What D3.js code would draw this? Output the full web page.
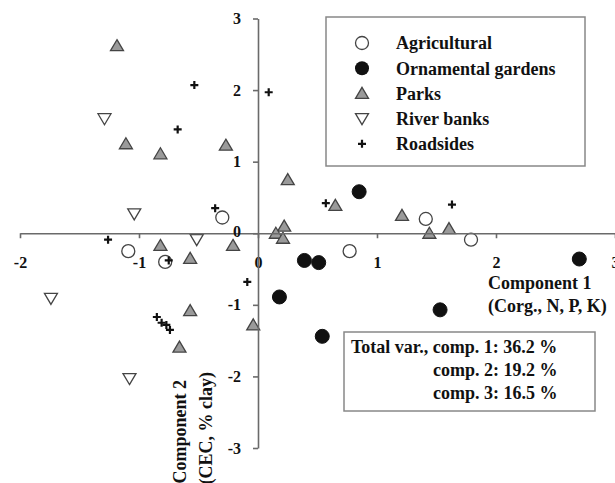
<!DOCTYPE html>
<html>
<head>
<meta charset="utf-8">
<script src="https://cdn.jsdelivr.net/npm/d3@7"></script>
<style>
html,body{margin:0;padding:0;background:#fff;}
svg{display:block;}
text{font-family:"Liberation Serif","Times New Roman",serif;font-weight:bold;fill:#111;}
</style>
</head>
<body>
<svg id="chart" width="615" height="483"></svg>
<script>
// ---- data ----
const agricultural = [[-0.30,0.22],[-1.09,-0.25],[-0.78,-0.40],[1.41,0.20],[1.79,-0.09],[0.77,-0.25]];
const ornamental   = [[0.85,0.58],[0.39,-0.38],[0.51,-0.41],[2.70,-0.36],[1.53,-1.07],[0.54,-1.44],[0.18,-0.89]];
const parks = [[-1.185,2.62],[-1.11,1.25],[-0.82,1.11],[-0.27,1.23],[0.25,0.75],[0.22,0.10],[0.15,0.00],[0.21,-0.07],
               [-0.82,-0.17],[-0.21,-0.17],[-0.57,-0.35],[-0.57,-1.08],[-0.66,-1.59],[-0.04,-1.28],
               [0.65,0.39],[1.21,0.25],[1.44,0.00],[1.605,0.065]];
const riverBanks = [[-1.29,1.60],[-1.04,0.27],[-0.515,-0.09],[-1.74,-0.91],[-1.08,-2.03]];
const roadsides = [[-0.535,2.07],[0.09,1.97],[-0.675,1.45],[-0.36,0.35],[-1.26,-0.09],[-0.75,-0.38],[-0.09,-0.68],
                   [-0.85,-1.17],[-0.81,-1.25],[-0.77,-1.28],[-0.74,-1.35],[0.57,0.42],[1.63,0.40]];
const xTicks = [-2,-1,0,1,2,3];
const yTicks = [-3,-2,-1,0,1,2,3];
const legendLabels = ["Agricultural","Ornamental gardens","Parks","River banks","Roadsides"];
const statsLines = ["Total var., comp. 1: 36.2 %","comp. 2: 19.2 %","comp. 3: 16.5 %"];
const xTitle = ["Component 1","(Corg., N, P, K)"];
const yTitle = ["Component 2","(CEC, % clay)"];

// ---- layout ----
const svg = d3.select("#chart");
const x = d3.scaleLinear().domain([-2,3]).range([20,615]);
const y = d3.scaleLinear().domain([-3,3]).range([448,18.5]);
const axisColor = "#6a6a6a";

// symbols
function triUp(cx,cy){return `M${cx},${cy-6} L${cx+6.5},${cy+5} L${cx-6.5},${cy+5} Z`;}
function triDown(cx,cy){return `M${cx},${cy+6} L${cx+6.5},${cy-5} L${cx-6.5},${cy-5} Z`;}
function cross(cx,cy){return `M${cx-4},${cy} H${cx+4} M${cx},${cy-4} V${cy+4}`;}

// axes lines (drawn first)
const gx = svg.append("g").attr("transform",`translate(0,${y(0)})`)
  .call(d3.axisBottom(x).tickValues(xTicks).tickSize(5).tickSizeOuter(0).tickPadding(18).tickFormat(d=>String(d)));
const gy = svg.append("g").attr("transform",`translate(${x(0)},0)`)
  .call(d3.axisLeft(y).tickValues(yTicks).tickSize(5).tickSizeOuter(0).tickPadding(12).tickFormat(d=>String(d)));
[gx,gy].forEach(g=>{
  g.select(".domain").attr("stroke",axisColor).attr("stroke-width",1.6);
  g.selectAll(".tick line").attr("stroke",axisColor).attr("stroke-width",1.6);
  g.selectAll(".tick text").style("font-family",'"Liberation Serif",serif').style("font-weight","bold")
    .style("font-size","16px").attr("fill","#111");
});
gy.selectAll(".tick text").filter(d=>d===0).attr("dy","0.2em");

const pts = svg.append("g");
pts.selectAll(".rb").data(riverBanks).join("path").attr("d",d=>triDown(x(d[0]),y(d[1])))
  .attr("fill","#fff").attr("stroke","#444").attr("stroke-width",1.3);
pts.selectAll(".ag").data(agricultural).join("circle").attr("cx",d=>x(d[0])).attr("cy",d=>y(d[1])).attr("r",6.5)
  .attr("fill","#fff").attr("stroke","#444").attr("stroke-width",1.3);
pts.selectAll(".pk").data(parks).join("path").attr("d",d=>triUp(x(d[0]),y(d[1])))
  .attr("fill","#9a9a9a").attr("stroke","#444").attr("stroke-width",1.3);
pts.selectAll(".og").data(ornamental).join("circle").attr("cx",d=>x(d[0])).attr("cy",d=>y(d[1])).attr("r",7)
  .attr("fill","#111").attr("stroke","#111");
pts.selectAll(".rs").data(roadsides).join("path").attr("d",d=>cross(x(d[0]),y(d[1])))
  .attr("fill","none").attr("stroke","#111").attr("stroke-width",2.2);

// bring tick labels on top of marks
gx.raise(); gy.raise();

// legend
const lg = svg.append("g");
lg.append("rect").attr("x",326).attr("y",17).attr("width",259).attr("height",149)
  .attr("fill","#fff").attr("stroke","#888").attr("stroke-width",1.5);
const lx = 362, ly0 = 43, ldy = 25.2;
legendLabels.forEach((lab,i)=>{
  const cy = ly0 + i*ldy;
  if(i===0) lg.append("circle").attr("cx",lx).attr("cy",cy).attr("r",6.5).attr("fill","#fff").attr("stroke","#444").attr("stroke-width",1.3);
  if(i===1) lg.append("circle").attr("cx",lx).attr("cy",cy).attr("r",7).attr("fill","#111");
  if(i===2) lg.append("path").attr("d",triUp(lx,cy)).attr("fill","#9a9a9a").attr("stroke","#444").attr("stroke-width",1.3);
  if(i===3) lg.append("path").attr("d",triDown(lx,cy)).attr("fill","#fff").attr("stroke","#444").attr("stroke-width",1.3);
  if(i===4) lg.append("path").attr("d",cross(lx,cy)).attr("stroke","#111").attr("stroke-width",2.2);
  lg.append("text").attr("x",396).attr("y",cy).attr("dy","0.35em").style("font-size","18px").text(lab);
});

// x axis title
svg.append("text").attr("x",488).attr("y",289).style("font-size","18px").text(xTitle[0]);
svg.append("text").attr("x",488).attr("y",312).style("font-size","18px").text(xTitle[1]);

// y axis title (rotated)
svg.append("text").attr("transform","translate(186,380) rotate(-90)").attr("text-anchor","end")
  .style("font-size","18px").text(yTitle[0]);
svg.append("text").attr("transform","translate(212,372) rotate(-90)").attr("text-anchor","end")
  .style("font-size","18px").text(yTitle[1]);

// stats box
svg.append("rect").attr("x",344).attr("y",332).attr("width",251).attr("height",79)
  .attr("fill","#fff").attr("stroke","#888").attr("stroke-width",1.5);
svg.append("text").attr("x",351).attr("y",353).style("font-size","18px").text(statsLines[0]);
svg.append("text").attr("x",433).attr("y",376).style("font-size","18px").text(statsLines[1]);
svg.append("text").attr("x",433).attr("y",399).style("font-size","18px").text(statsLines[2]);
</script>
</body>
</html>
